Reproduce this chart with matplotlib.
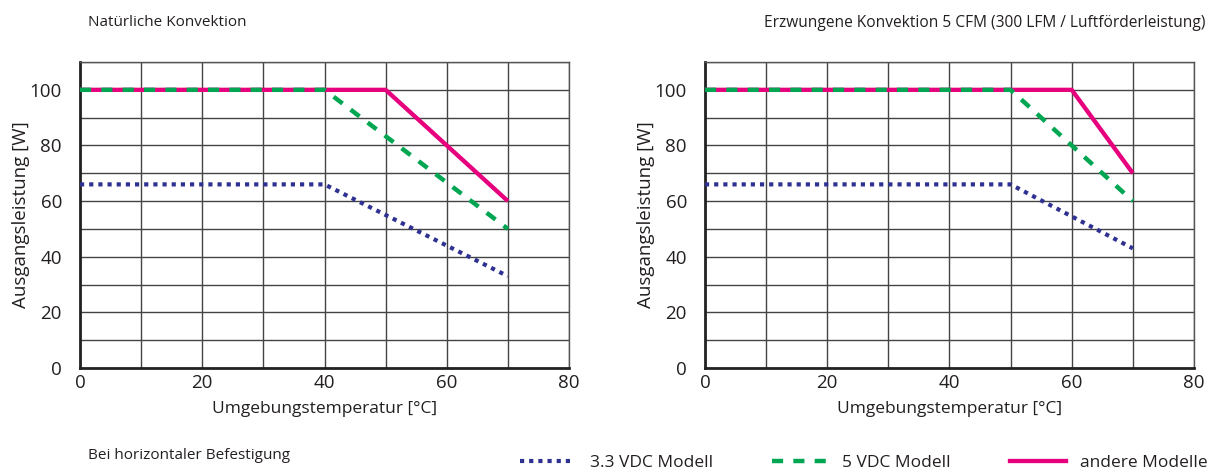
import matplotlib.pyplot as plt

# Derating curves: temperature [°C] vs. output power [W]
natural_temp_33 = [0, 40, 70]
natural_power_33 = [66, 66, 33]
natural_temp_5 = [0, 40, 70]
natural_power_5 = [100, 100, 50]
natural_temp_other = [0, 50, 70]
natural_power_other = [100, 100, 60]

forced_temp_33 = [0, 50, 70]
forced_power_33 = [66, 66, 43]
forced_temp_5 = [0, 50, 70]
forced_power_5 = [100, 100, 60]
forced_temp_other = [0, 60, 70]
forced_power_other = [100, 100, 70]

x_ticks = [0, 20, 40, 60, 80]
y_ticks = [0, 20, 40, 60, 80, 100]
labels = ["3.3 VDC Modell", "5 VDC Modell", "andere Modelle"]

blue = "#2e3192"
green = "#00a651"
pink = "#e6007e"
text_col = "#231f20"

dot_style = (0, (1, 1.2))
dash_style = (0, (2.5, 2.3))

plt.rcParams['font.family'] = ['Open Sans', 'DejaVu Sans']
plt.rcParams['font.size'] = 11

fig = plt.figure(figsize=(12.14, 4.69), dpi=100)
ax1 = fig.add_axes([0.0659, 0.2154, 0.4028, 0.6524])
ax2 = fig.add_axes([0.5807, 0.2154, 0.4028, 0.6524])


def draw(ax, t33, p33, t5, p5, to, po):
    ax.plot(to, po, color=pink, lw=3.1, solid_capstyle='butt', zorder=3)
    ax.plot(t5, p5, color=green, lw=3.2, linestyle=dash_style, zorder=4)
    ax.plot(t33, p33, color=blue, lw=3, linestyle=dot_style, zorder=5)
    ax.set_xlim(0, 80)
    ax.set_ylim(0, 110)
    ax.set_xticks(x_ticks)
    ax.set_xticks(range(0, 81, 10), minor=True)
    ax.set_yticks(y_ticks)
    ax.set_yticks(range(0, 111, 10), minor=True)
    ax.grid(True, which='both', color="#444444", lw=1)
    ax.tick_params(which='both', length=0, colors=text_col, labelsize=13.5)
    ax.tick_params(axis='y', pad=13)
    ax.tick_params(axis='x', pad=4)
    ax.set_xlabel("Umgebungstemperatur [°C]", fontsize=12.5, color=text_col, labelpad=7)
    ax.set_ylabel("Ausgangsleistung [W]", fontsize=13.5, color=text_col, labelpad=0)
    for s in ['top', 'right']:
        ax.spines[s].set_color("#555555")
        ax.spines[s].set_linewidth(1)
    for s in ['left', 'bottom']:
        ax.spines[s].set_color("#222222")
        ax.spines[s].set_linewidth(2)


draw(ax1, natural_temp_33, natural_power_33, natural_temp_5, natural_power_5,
     natural_temp_other, natural_power_other)
draw(ax2, forced_temp_33, forced_power_33, forced_temp_5, forced_power_5,
     forced_temp_other, forced_power_other)

fig.text(0.0725, 0.952, "Natürliche Konvektion", fontsize=11, color=text_col, va='center')
fig.text(0.993, 0.952, "Erzwungene Konvektion 5 CFM (300 LFM / Luftförderleistung)",
         fontsize=11.2, color=text_col, va='center', ha='right')
fig.text(0.0725, 0.028, "Bei horizontaler Befestigung", fontsize=11, color=text_col, va='center')

# legend
h1, = ax1.plot([], [], color=blue, lw=3, linestyle=dot_style)
h2, = ax1.plot([], [], color=green, lw=3.2, linestyle=dash_style)
h3, = ax1.plot([], [], color=pink, lw=3.1)
fig.legend([h1, h2, h3], labels, loc='center right', bbox_to_anchor=(1.008, 0.012),
           ncol=3, frameon=False, fontsize=12.5, handlelength=3.2, columnspacing=3.4,
           handletextpad=0.85, labelcolor=text_col)

fig.savefig("out.png", dpi=100)
